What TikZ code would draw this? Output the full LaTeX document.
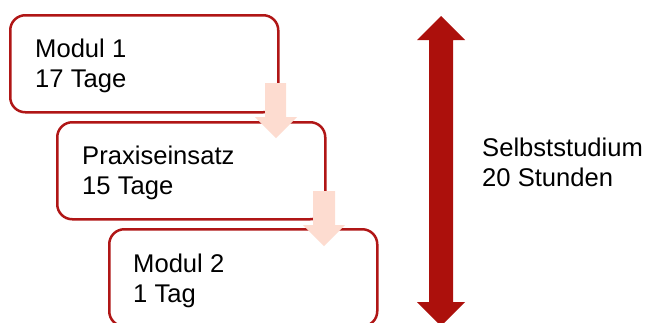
\documentclass[tikz,border=0pt]{standalone}
\usepackage{fontspec}
\setmainfont{Liberation Sans}

\definecolor{boxred}{RGB}{176,22,22}
\definecolor{arrowred}{RGB}{172,16,12}
\definecolor{palerose}{RGB}{253,220,208}

\begin{document}
\begin{tikzpicture}[x=1pt, y=-1pt,
    box/.style={draw=boxred, line width=2.5pt, rounded corners=15pt, fill=white, minimum width=268pt, minimum height=97pt, anchor=north west, inner sep=0pt},
    txt/.style={anchor=north west, inner sep=0pt, align=left, font=\fontsize{25.6}{30.5}\selectfont}]

    \useasboundingbox (0,0) rectangle (648,322);

    \node[box] (modul1) at (9,14) {};
    \node[box] (praxis) at (56,121) {};
    \node[box] (modul2) at (108,228) {};

    \fill[palerose] (265,83) -- (286,83) -- (286,117) -- (297,117) -- (276,138) -- (255,117) -- (265,117) -- cycle;
    \fill[palerose] (313,191) -- (335,191) -- (335,225) -- (345,225) -- (324,246) -- (303,225) -- (313,225) -- cycle;

    \node[txt] (t1) at (35,38.7) {Modul 1\\17 Tage};
    \node[txt] (t2) at (82,145.7) {Praxiseinsatz\\15 Tage};
    \node[txt] (t3) at (133,253.7) {Modul 2\\1 Tag};

    \fill[arrowred] (441,16) -- (465,40) -- (453,40) -- (453,302) -- (465,302) -- (441,326)
        -- (417,302) -- (429,302) -- (429,40) -- (417,40) -- cycle;

    \node[txt] (selbst) at (482,137.7) {Selbststudium\\20 Stunden};

\end{tikzpicture}
\end{document}
